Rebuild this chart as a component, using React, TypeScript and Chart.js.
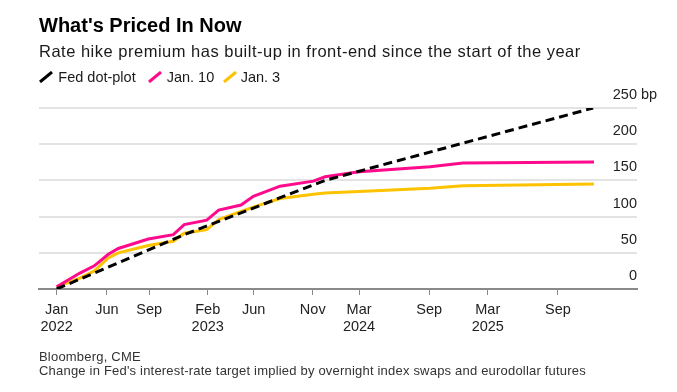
import React, { useEffect, useRef } from "react";
import { Chart, registerables } from "chart.js";

Chart.register(...registerables);

// X positions are in months from Jan 2022, as laid out on the source chart's axis
const tickPositions = [0, 4.41, 8.12, 13.25, 17.28, 22.46, 26.52, 32.68, 37.81, 43.97];
const tickMonths = ["Jan", "Jun", "Sep", "Feb", "Jun", "Nov", "Mar", "Sep", "Mar", "Sep"];
const tickYears = ["2022", "", "", "2023", "", "", "2024", "", "2025", ""];

// Market pricing (bp) at each meeting position
const marketX = [0, 2.04, 3.3, 4.53, 5.4, 8.04, 10.23, 11.19, 13.16, 14.21, 16.17, 17.25, 19.59, 22.51, 23.54, 26.52, 32.75, 35.64, 47.13];
const jan10 = [3, 22, 32, 48, 56, 69, 75, 89, 95, 109, 116, 128, 142, 149, 155, 162, 169, 174, 175.5];
const jan3 = [3, 15, 25, 43, 50, 60, 66, 77, 82, 96, 107, 113, 125, 131, 132.5, 134.5, 139, 142.5, 145];

// Fed dot-plot path
const dotX = [0, 11.19, 23.54, 47.05];
const dotPlot = [0, 75, 150, 250];

const yTicks = [0, 50, 100, 150, 200, 250];

const FONT = '"Liberation Sans", Arial, Helvetica, sans-serif';
const PINK = "#ff0a8c";
const YELLOW = "#fdc200";

const yLabelPlugin = {
  id: "yLabelPlugin",
  afterDraw(chart: any) {
    const { ctx, chartArea } = chart;
    const y = chart.scales.y;
    ctx.save();
    ctx.font = `14.5px ${FONT}`;
    ctx.fillStyle = "#222";
    ctx.textBaseline = "alphabetic";
    yTicks.forEach((v, i) => {
      const py = y.getPixelForValue(v);
      ctx.textAlign = "right";
      ctx.fillText(String(v), chartArea.right, py - 9);
      if (i === yTicks.length - 1) {
        ctx.textAlign = "left";
        ctx.fillText(" bp", chartArea.right, py - 9);
      }
    });
    ctx.restore();
  },
};

function LegendMark({ color }: { color: string }) {
  return (
    <svg width="14" height="12" style={{ position: "absolute", left: 0, top: 1 }}>
      <line x1="1" y1="11" x2="13" y2="1" stroke={color} strokeWidth="3" />
    </svg>
  );
}

export default function App() {
  const canvasRef = useRef<HTMLCanvasElement | null>(null);

  useEffect(() => {
    if (!canvasRef.current) return;
    const chart = new Chart(canvasRef.current, {
      type: "line",
      data: {
        datasets: [
          {
            label: "Fed dot-plot",
            data: dotX.map((x, i) => ({ x, y: dotPlot[i] })),
            borderColor: "#000",
            borderWidth: 3,
            borderDash: [9, 5],
            pointRadius: 0,
            tension: 0,
            fill: false,
          },
          {
            label: "Jan. 10",
            data: marketX.map((x, i) => ({ x, y: jan10[i] })),
            borderColor: PINK,
            borderWidth: 3,
            pointRadius: 0,
            tension: 0,
            fill: false,
          },
          {
            label: "Jan. 3",
            data: marketX.map((x, i) => ({ x, y: jan3[i] })),
            borderColor: YELLOW,
            borderWidth: 3,
            pointRadius: 0,
            tension: 0,
            fill: false,
          },
        ],
      },
      options: {
        animation: false,
        responsive: false,
        maintainAspectRatio: false,
        layout: { padding: { left: 39, right: 40, top: 108, bottom: 43 } },
        plugins: { legend: { display: false }, tooltip: { enabled: false } },
        scales: {
          x: {
            type: "linear",
            min: -1.55,
            max: 50.9,
            grid: { drawOnChartArea: false, drawTicks: true, tickLength: 6, color: "#8a8a8a", lineWidth: 1 },
            border: { display: true, color: "#8a8a8a", width: 2 },
            afterBuildTicks: (axis: any) => {
              axis.ticks = tickPositions.map((v) => ({ value: v }));
            },
            afterFit: (axis: any) => {
              axis.height = 60;
            },
            ticks: {
              autoSkip: false,
              maxRotation: 0,
              minRotation: 0,
              padding: 7,
              color: "#222",
              font: { size: 14.5, family: FONT, lineHeight: 1.15 },
              callback: (value: any) => {
                const idx = tickPositions.indexOf(Number(value));
                if (idx < 0) return "";
                return tickYears[idx] ? [tickMonths[idx], tickYears[idx]] : tickMonths[idx];
              },
            },
          },
          y: {
            position: "right",
            min: 0,
            max: 250,
            ticks: { display: false, stepSize: 50 },
            grid: {
              drawTicks: false,
              lineWidth: 2,
              color: (c: any) => (c.tick && c.tick.value === 0 ? "rgba(0,0,0,0)" : "#e3e3e3"),
            },
            border: { display: false },
            afterFit: (axis: any) => {
              axis.width = 0;
            },
          },
        },
      },
      plugins: [yLabelPlugin],
    } as any);
    return () => chart.destroy();
  }, []);

  return (
    <div style={{ position: "absolute", left: 0, top: 0, width: 677, height: 392, background: "#fff", overflow: "hidden", fontFamily: FONT }}>
      <canvas ref={canvasRef} width={677} height={392} style={{ position: "absolute", left: 0, top: 0, width: 677, height: 392 }} />
      <div style={{ position: "absolute", left: 39, top: 15.4, fontSize: 20, lineHeight: "20px", fontWeight: 700, color: "#000", whiteSpace: "nowrap" }}>
        What's Priced In Now
      </div>
      <div style={{ position: "absolute", left: 39, top: 42.7, fontSize: 16.5, lineHeight: "16.5px", letterSpacing: "0.5px", color: "#1a1a1a", whiteSpace: "nowrap" }}>
        Rate hike premium has built-up in front-end since the start of the year
      </div>
      <div style={{ position: "absolute", left: 39, top: 69.7, fontSize: 14.5, lineHeight: "14.5px", color: "#1a1a1a", whiteSpace: "nowrap" }}>
        <span style={{ position: "absolute", left: 0, top: 0, width: 100 }}>
          <LegendMark color="#000" />
          <span style={{ position: "absolute", left: 19.3, top: 0 }}>Fed dot-plot</span>
        </span>
        <span style={{ position: "absolute", left: 109.3, top: 0, width: 80 }}>
          <LegendMark color={PINK} />
          <span style={{ position: "absolute", left: 18.4, top: 0 }}>Jan. 10</span>
        </span>
        <span style={{ position: "absolute", left: 183.7, top: 0, width: 80 }}>
          <LegendMark color={YELLOW} />
          <span style={{ position: "absolute", left: 18, top: 0 }}>Jan. 3</span>
        </span>
      </div>
      <div style={{ position: "absolute", left: 39, top: 349.8, fontSize: 13, lineHeight: "14px", letterSpacing: "0.2px", color: "#333", whiteSpace: "nowrap" }}>
        <div>Bloomberg, CME</div>
        <div>Change in Fed's interest-rate target implied by overnight index swaps and eurodollar futures</div>
      </div>
    </div>
  );
}
